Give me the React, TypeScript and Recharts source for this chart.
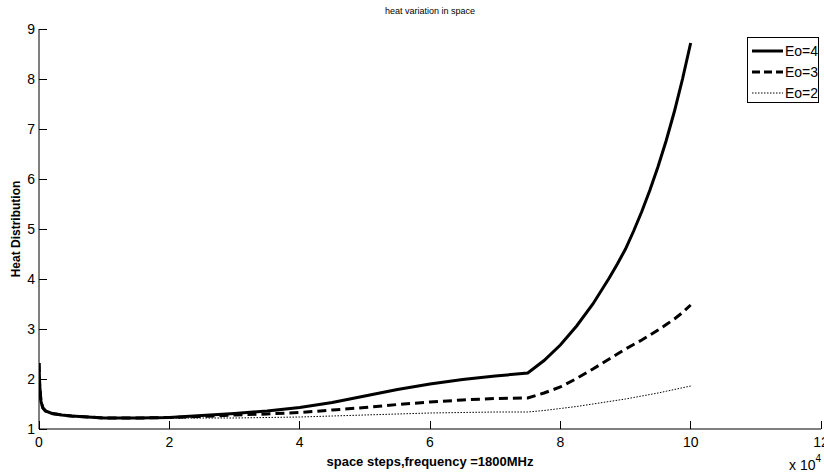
import React from "react";
import { LineChart, Line, XAxis, YAxis } from "recharts";

// x in units of 10^4 space steps
const steps = [0, 0.01, 0.03, 0.06, 0.1, 0.2, 0.35, 0.5, 0.75, 1, 1.5, 2, 2.5, 3, 3.5, 4, 4.5, 5, 5.5, 6, 6.5, 7, 7.5, 7.75, 8, 8.25, 8.5, 8.75, 8.875, 9, 9.125, 9.25, 9.375, 9.5, 9.625, 9.75, 9.875, 10];
const eo4 = [2.32, 1.9, 1.55, 1.42, 1.36, 1.31, 1.28, 1.26, 1.24, 1.22, 1.22, 1.23, 1.27, 1.31, 1.36, 1.43, 1.53, 1.66, 1.79, 1.9, 1.99, 2.06, 2.12, 2.37, 2.68, 3.06, 3.5, 4.02, 4.3, 4.6, 4.96, 5.35, 5.78, 6.25, 6.77, 7.35, 8.0, 8.72];
const eo3 = [2.32, 1.9, 1.55, 1.42, 1.36, 1.31, 1.28, 1.26, 1.24, 1.22, 1.22, 1.23, 1.25, 1.28, 1.3, 1.33, 1.38, 1.43, 1.49, 1.54, 1.58, 1.61, 1.62, 1.72, 1.84, 2.01, 2.2, 2.4, 2.5, 2.6, 2.69, 2.78, 2.88, 2.98, 3.09, 3.2, 3.33, 3.48];
const eo2 = [2.32, 1.9, 1.55, 1.42, 1.36, 1.31, 1.28, 1.26, 1.24, 1.22, 1.22, 1.22, 1.22, 1.22, 1.23, 1.24, 1.26, 1.28, 1.3, 1.32, 1.33, 1.34, 1.34, 1.37, 1.41, 1.45, 1.5, 1.55, 1.575, 1.6, 1.63, 1.66, 1.69, 1.72, 1.755, 1.79, 1.825, 1.86];

const xTicks = [0, 2, 4, 6, 8, 10, 12];
const yTicks = [1, 2, 3, 4, 5, 6, 7, 8, 9];

const data = steps.map((s, i) => ({ s, eo4: eo4[i], eo3: eo3[i], eo2: eo2[i] }));

const FONT = "'Liberation Sans', Arial, sans-serif";
const TICK = 8;

// matlab style: tick marks point into the plot box
const BottomTick = (p: any) => (
  <g>
    <line x1={p.x} y1={p.y} x2={p.x} y2={p.y - TICK} stroke="#000" strokeWidth={1} shapeRendering="crispEdges" />
    <text x={p.x} y={p.y + 18} textAnchor="middle" fontSize={14} fontFamily={FONT} fill="#000">{p.payload.value}</text>
  </g>
);
const TopTick = (p: any) => (
  <line x1={p.x} y1={p.y} x2={p.x} y2={p.y + TICK} stroke="#000" strokeWidth={1} shapeRendering="crispEdges" />
);
const LeftTick = (p: any) => (
  <g>
    <line x1={p.x} y1={p.y} x2={p.x + TICK} y2={p.y} stroke="#000" strokeWidth={1} shapeRendering="crispEdges" />
    <text x={p.x - 4} y={p.y} dy="0.35em" textAnchor="end" fontSize={14} fontFamily={FONT} fill="#000">{p.payload.value}</text>
  </g>
);
const RightTick = (p: any) => (
  <line x1={p.x} y1={p.y} x2={p.x - TICK} y2={p.y} stroke="#000" strokeWidth={1} shapeRendering="crispEdges" />
);

const legendItems = [
  { label: "Eo=4", width: 3, dash: undefined },
  { label: "Eo=3", width: 3, dash: "8 4" },
  { label: "Eo=2", width: 1, dash: "1.5 1.5" },
];

function LegendBox() {
  return (
    <div style={{ position: "absolute", left: 747, top: 37, border: "1px solid #000", background: "#fff", width: 72, height: 66, fontFamily: FONT, fontSize: 14, boxSizing: "border-box", paddingTop: 2 }}>
      {legendItems.map((it) => (
        <div key={it.label} style={{ display: "flex", alignItems: "center", height: 21 }}>
          <svg width={36} height={10} style={{ marginLeft: 4 }}>
            <line x1={0} y1={5} x2={31} y2={5} stroke="#000" strokeWidth={it.width} strokeDasharray={it.dash} />
          </svg>
          <span style={{ marginLeft: -1 }}>{it.label}</span>
        </div>
      ))}
    </div>
  );
}

export default function App() {
  return (
    <div style={{ position: "absolute", left: 0, top: 0, width: 824, height: 474, background: "#fff", fontFamily: FONT }}>
      <div style={{ position: "absolute", left: 39, width: 782, top: 6, textAlign: "center", fontSize: 9 }}>
        heat variation in space
      </div>
      <LineChart width={824} height={474} data={data} margin={{ top: 29, right: 3, left: 0, bottom: 0 }}>
        <XAxis
          dataKey="s"
          type="number"
          domain={[0, 12]}
          ticks={xTicks}
          interval={0}
          allowDataOverflow
          height={45}
          stroke="#000"
          tickLine={false}
          tickSize={0}
          tickMargin={0}
          tick={BottomTick}
        />
        <XAxis
          xAxisId="top"
          dataKey="s"
          orientation="top"
          type="number"
          domain={[0, 12]}
          ticks={xTicks}
          interval={0}
          allowDataOverflow
          height={0}
          stroke="#000"
          tickLine={false}
          tickSize={0}
          tickMargin={0}
          tick={TopTick}
        />
        <YAxis
          type="number"
          domain={[1, 9]}
          ticks={yTicks}
          interval={0}
          allowDataOverflow
          width={39}
          stroke="#000"
          tickLine={false}
          tickSize={0}
          tickMargin={0}
          tick={LeftTick}
        />
        <YAxis
          yAxisId="right"
          orientation="right"
          type="number"
          domain={[1, 9]}
          ticks={yTicks}
          interval={0}
          allowDataOverflow
          width={0}
          stroke="#000"
          tickLine={false}
          tickSize={0}
          tickMargin={0}
          tick={RightTick}
        />
        <Line dataKey="eo2" type="linear" stroke="#000" strokeWidth={1} strokeDasharray="1.5 1.5" dot={false} isAnimationActive={false} />
        <Line dataKey="eo3" type="linear" stroke="#000" strokeWidth={3} strokeDasharray="9 5" dot={false} isAnimationActive={false} />
        <Line dataKey="eo4" type="linear" stroke="#000" strokeWidth={3} dot={false} isAnimationActive={false} />
      </LineChart>
      <LegendBox />
      <div style={{ position: "absolute", left: 39, width: 782, top: 454, textAlign: "center", fontSize: 13, fontWeight: "bold" }}>
        space steps,frequency =1800MHz
      </div>
      <div style={{ position: "absolute", left: 16, top: 229, transform: "translate(-50%, -50%) rotate(-90deg)", whiteSpace: "nowrap", fontSize: 12, fontWeight: "bold" }}>
        Heat Distribution
      </div>
      <div style={{ position: "absolute", left: 789, top: 457, fontSize: 14, whiteSpace: "nowrap" }}>
        x 10<sup style={{ fontSize: 10, verticalAlign: "top", position: "relative", top: -4 }}>4</sup>
      </div>
    </div>
  );
}
